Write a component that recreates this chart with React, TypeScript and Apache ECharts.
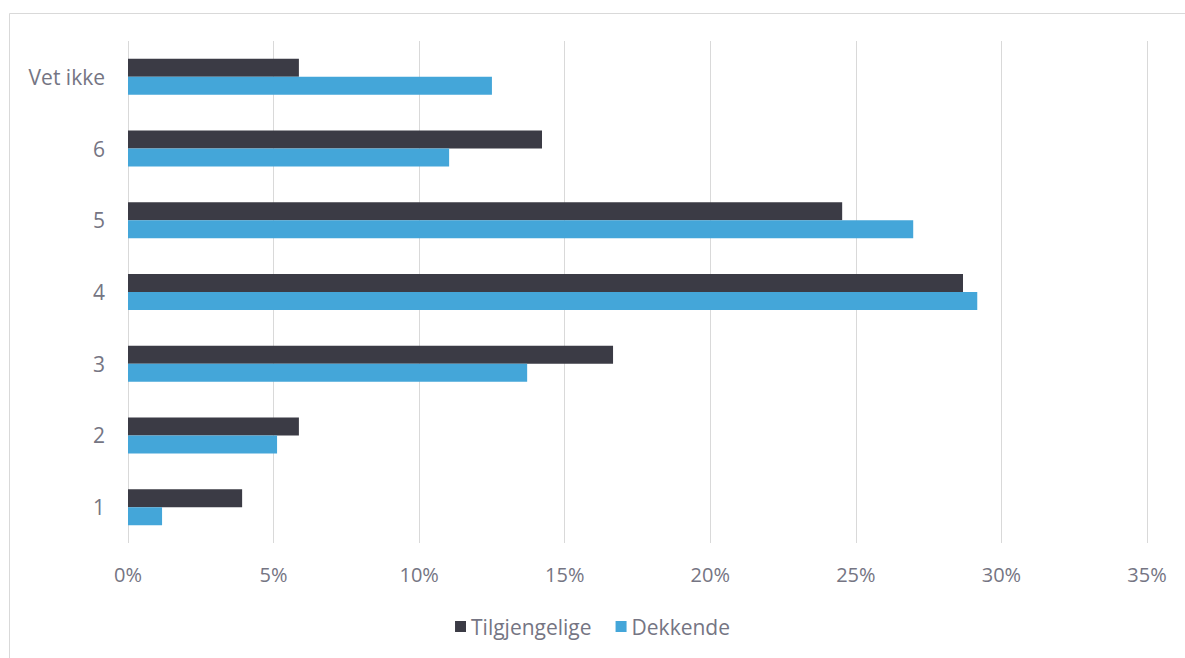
import React, { useEffect, useRef } from "react";
import * as echarts from "echarts";

const categories = ["1", "2", "3", "4", "5", "6", "Vet ikke"];
const tilgjengelige = [3.92, 5.87, 16.66, 28.68, 24.53, 14.22, 5.87];
const dekkende = [1.17, 5.12, 13.71, 29.17, 26.97, 11.03, 12.5];
const xTicks = [0, 5, 10, 15, 20, 25, 30, 35];

const FONT = "'Open Sans', sans-serif";
const TEXT = "#757583";

export default function App() {
  const ref = useRef<HTMLDivElement>(null);
  useEffect(() => {
    if (!ref.current) return;
    const chart = echarts.init(ref.current, null, { renderer: "svg" });
    chart.setOption({
      animation: false,
      backgroundColor: "#ffffff",
      graphic: [
        {
          type: "rect",
          shape: { x: 9.5, y: 13.5, width: 1200, height: 700 },
          style: { fill: "none", stroke: "#d9d9d9", lineWidth: 1 },
          silent: true,
        },
      ],
      grid: { left: 128, right: 38, top: 41, bottom: 115, containLabel: false },
      legend: {
        bottom: 16,
        left: "center",
        itemWidth: 11,
        itemHeight: 11,
        itemGap: 24,
        icon: "rect",
        textStyle: { color: TEXT, fontSize: 21, fontFamily: FONT },
        data: ["Tilgjengelige", "Dekkende"],
      },
      xAxis: {
        type: "value",
        min: 0,
        max: 35,
        interval: 5,
        axisLine: { show: false },
        axisTick: { show: false },
        splitLine: { show: true, lineStyle: { color: "#d9d9d9", width: 1 } },
        axisLabel: {
          color: TEXT,
          fontSize: 20,
          fontFamily: FONT,
          margin: 21,
          formatter: (v: number) => (xTicks.includes(v) ? `${v}%` : ""),
        },
      },
      yAxis: {
        type: "category",
        data: categories,
        axisLine: { show: false },
        axisTick: { show: false },
        axisLabel: { color: TEXT, fontSize: 21, fontFamily: FONT, margin: 23 },
      },
      series: [
        {
          name: "Tilgjengelige",
          type: "bar",
          data: tilgjengelige,
          barWidth: 18,
          barGap: "0%",
          itemStyle: { color: "#3b3b45" },
        },
        {
          name: "Dekkende",
          type: "bar",
          data: dekkende,
          barWidth: 18,
          barGap: "0%",
          itemStyle: { color: "#44a6d9" },
        },
      ],
    });
    return () => chart.dispose();
  }, []);
  return (
    <div
      ref={ref}
      style={{ position: "fixed", left: 0, top: 0, width: 1185, height: 658 }}
    />
  );
}
